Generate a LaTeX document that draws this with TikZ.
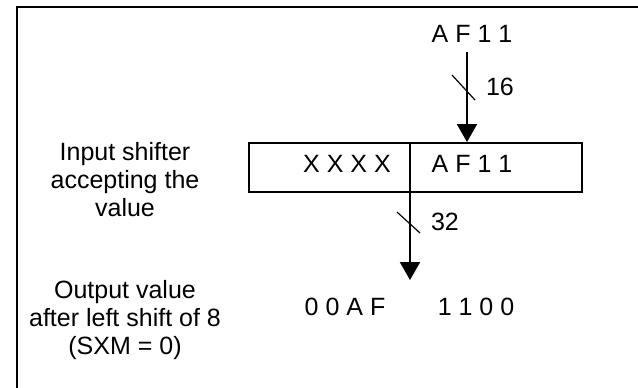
\documentclass[tikz,border=0pt]{standalone}
\usepackage{fontspec}
\setmainfont{Liberation Sans}
\usetikzlibrary{arrows.meta,calc}

\begin{document}
\begin{tikzpicture}[
    x=1pt, y=-1pt,
    frame/.style={line width=2pt, draw=black},
    reg/.style={draw=black, line width=2pt, minimum width=333pt, minimum height=49pt, inner sep=0pt},
    bus/.style={line width=2pt, draw=black, -{Triangle[width=20pt,length=18pt]}},
    slash/.style={line width=1.2pt, draw=black},
    hexval/.style={font=\fontsize{25}{28}\selectfont, inner sep=0pt},
    widthlabel/.style={font=\fontsize{25}{28}\selectfont, inner sep=0pt},
    caption/.style={font=\fontsize{25}{28}\selectfont, align=center, inner sep=0pt, anchor=north}
]
    \useasboundingbox (0,0) rectangle (638,388);

    % Frame
    \draw[frame] (17,390) -- (17,7) -- (640,7);

    % Input value
    \node[hexval] (inval) at (472,34) {A F 1 1};
    \coordinate (intop) at (467,52);

    % Shifter register
    \node[reg] (shifter) at (415.5,167.5) {};
    \draw[frame] (shifter.north -| 410,0) -- (shifter.south -| 410,0);
    \node[hexval] (xhi) at (347,164) {X X X X};
    \node[hexval] (xlo) at (472,164) {A F 1 1};

    % Input bus
    \draw[bus] (intop) -- (intop |- shifter.north);
    \draw[slash] (452,75) -- (475,100);
    \node[widthlabel] (w16) at (500,87) {16};

    % Output bus
    \coordinate (divbot) at (shifter.south -| 410,0);
    \coordinate (outtip) at (410,280);
    \draw[bus] (divbot) -- (outtip);
    \draw[slash] (397,212) -- (420,233);
    \node[widthlabel] (w32) at (445,222) {32};

    % Output value
    \node[hexval] (ohi) at (345,307) {0 0 A F};
    \node[hexval] (olo) at (476,307) {1 1 0 0};

    % Captions
    \node[caption] (incap) at (125,142) {Input shifter\\accepting the\\value};
    \node[caption] (outcap) at (125,280) {Output value\\after left shift of 8\\(SXM = 0)};

\end{tikzpicture}
\end{document}
